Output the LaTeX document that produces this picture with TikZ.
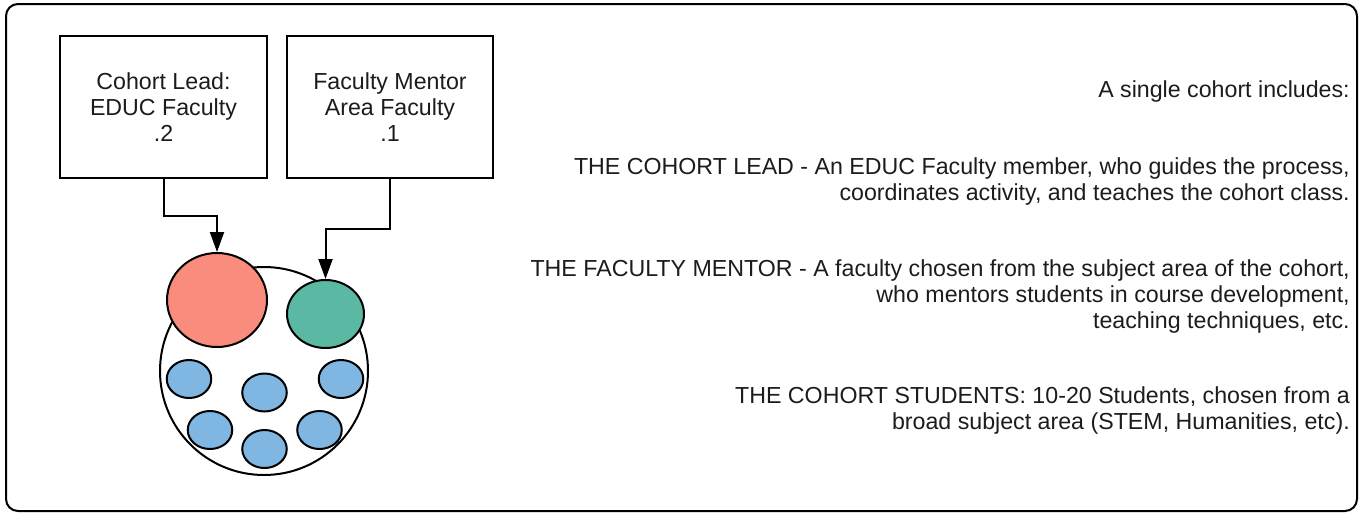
\documentclass[tikz,border=0pt]{standalone}
\usepackage{fontspec}
\setmainfont{Liberation Sans}
\usepackage{xcolor}
\usetikzlibrary{arrows.meta,shapes.geometric}

\definecolor{leadred}{HTML}{FA8C7D}
\definecolor{mentorgreen}{HTML}{5BB9A3}
\definecolor{studentblue}{HTML}{80B7E2}
\definecolor{txtgray}{HTML}{1C1C1C}

\tikzset{
  rolebox/.style={draw, line width=1.5pt, minimum width=155pt, minimum height=106.5pt, align=center, inner sep=0pt},
  blob/.style={ellipse, draw, line width=1.5pt, inner sep=0pt},
  student/.style={blob, fill=studentblue, minimum width=33.4pt, minimum height=28.5pt},
  elbow/.style={line width=1.5pt, -{Triangle[length=15pt,width=10.5pt]}},
  notes/.style={anchor=east, align=right, inner sep=0pt, text=txtgray}
}

\begin{document}
\begin{tikzpicture}[x=0.75pt,y=0.75pt,yscale=-1,xscale=1]
  \useasboundingbox (0,0) rectangle (1359,514);
  \fontsize{17.4}{19.5}\selectfont

  %Frame
  \draw [line width=1.5pt, rounded corners=9pt] (6,4) rectangle (1357,511);

  %Boxes
  \node [rolebox, text=txtgray] (lead) at (163.5,107) {Cohort Lead:\\EDUC Faculty\\.2};
  \node [rolebox, text=txtgray] (mentor) at (390,107) {Faculty Mentor\\Area Faculty\\.1};

  %Cohort circle
  \node [circle, draw, line width=1.5pt, minimum size=156pt, inner sep=0pt] (cohort) at (264,371) {};
  \node [blob, fill=leadred, minimum width=75pt, minimum height=70.5pt] (leadc) at (217,300) {};
  \node [blob, fill=mentorgreen, minimum width=57.75pt, minimum height=51pt] (mentorc) at (325.5,314) {};

  %Students
  \node [student] (s1) at (189,379) {};
  \node [student] (s2) at (264.5,392.5) {};
  \node [student] (s3) at (341,379) {};
  \node [student] (s4) at (210,430) {};
  \node [student] (s5) at (264.5,449) {};
  \node [student] (s6) at (319.5,430) {};

  %Arrows
  \draw [elbow] (lead.south) -- ++(0,37) -| (leadc.north);
  \draw [elbow] (mentor.south) -- ++(0,50) -| (mentorc.north);

  % Text Nodes
  \node [notes] (intro) at (1350,92) {A single cohort includes:};
  \node [notes] (leadtxt) at (1350,181) {THE COHORT LEAD - An EDUC Faculty member, who guides the process,\\coordinates activity, and teaches the cohort class.};
  \node [notes] (mentortxt) at (1350,296) {THE FACULTY MENTOR - A faculty chosen from the subject area of the cohort,\\who mentors students in course development,\\teaching techniques, etc.};
  \node [notes] (studenttxt) at (1350,410) {THE COHORT STUDENTS: 10-20 Students, chosen from a\\broad subject area (STEM, Humanities, etc).};
\end{tikzpicture}
\end{document}
